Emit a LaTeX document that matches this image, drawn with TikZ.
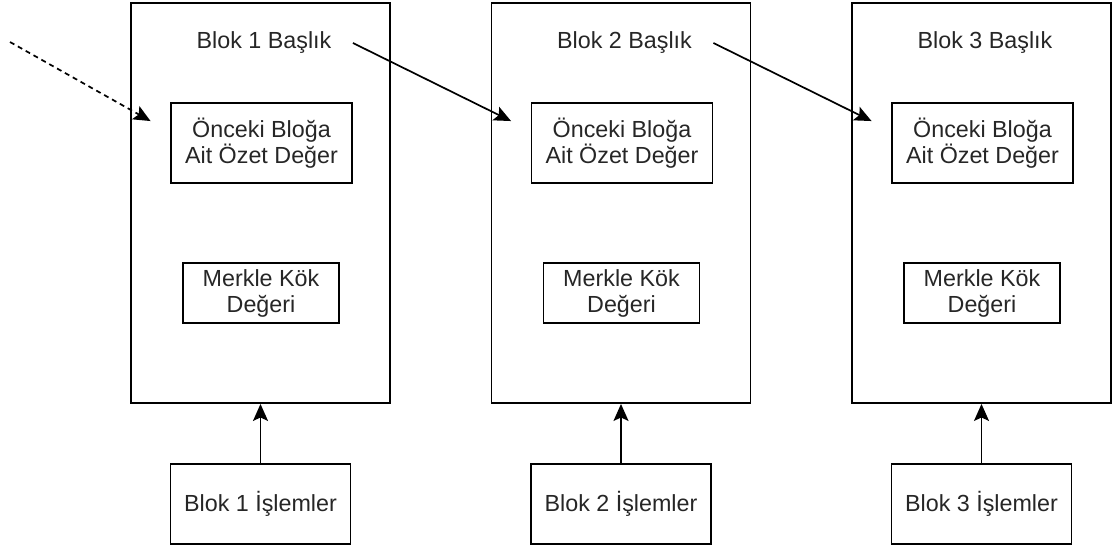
\documentclass[tikz,border=0pt]{standalone}
\usepackage{fontspec}
\setmainfont{Liberation Sans}
\usetikzlibrary{arrows.meta,calc}
\definecolor{ink}{HTML}{262626}
\begin{document}
\begin{tikzpicture}[x=1pt,y=-1pt,
  line width=1.9pt,
  txt/.style={font=\fontsize{23.3}{26}\selectfont, text=ink, align=center},
  blockbox/.style={draw, rectangle, inner sep=0pt, minimum width=259pt, minimum height=400pt},
  fieldbox/.style={draw, rectangle, inner sep=0pt, txt},
  titlebox/.style={rectangle, inner sep=0pt, minimum width=176pt, minimum height=26pt, txt},
  arr/.style={-{Stealth[length=17pt,width=15pt,inset=3.5pt]}, line width=1.7pt},
  dasharr/.style={arr, dash pattern=on 5pt off 4pt}]
  \useasboundingbox (0,0) rectangle (1114,549);

  % three blocks with header fields and their transaction boxes
  \foreach \i/\dx in {1/0,2/360.5,3/721}{
    \node[blockbox] (blk\i) at (260.5+\dx,203) {};
    \node[titlebox] (title\i) at (264+\dx,43) {Blok \i\ Başlık};
    \node[fieldbox, minimum width=181pt, minimum height=80pt] (prev\i) at (261.5+\dx,143)
      {Önceki Bloğa\\Ait Özet Değer};
    \node[fieldbox, minimum width=156pt, minimum height=60pt] (root\i) at (261+\dx,293)
      {Merkle Kök\\Değeri};
    \node[fieldbox, minimum width=180pt, minimum height=80pt] (tx\i) at (260.5+\dx,504)
      {Blok \i\ İşlemler};
    \coordinate (in\i) at ($(blk\i.north west)+(20.5,119)$);
    \draw[arr] (tx\i.north) -- (blk\i.south);
  }

  % links between consecutive headers
  \coordinate (origin) at (10,42);
  \draw[dasharr] (origin) -- (in1);
  \draw[arr] (title1.east) -- (in2);
  \draw[arr] (title2.east) -- (in3);
\end{tikzpicture}
\end{document}
